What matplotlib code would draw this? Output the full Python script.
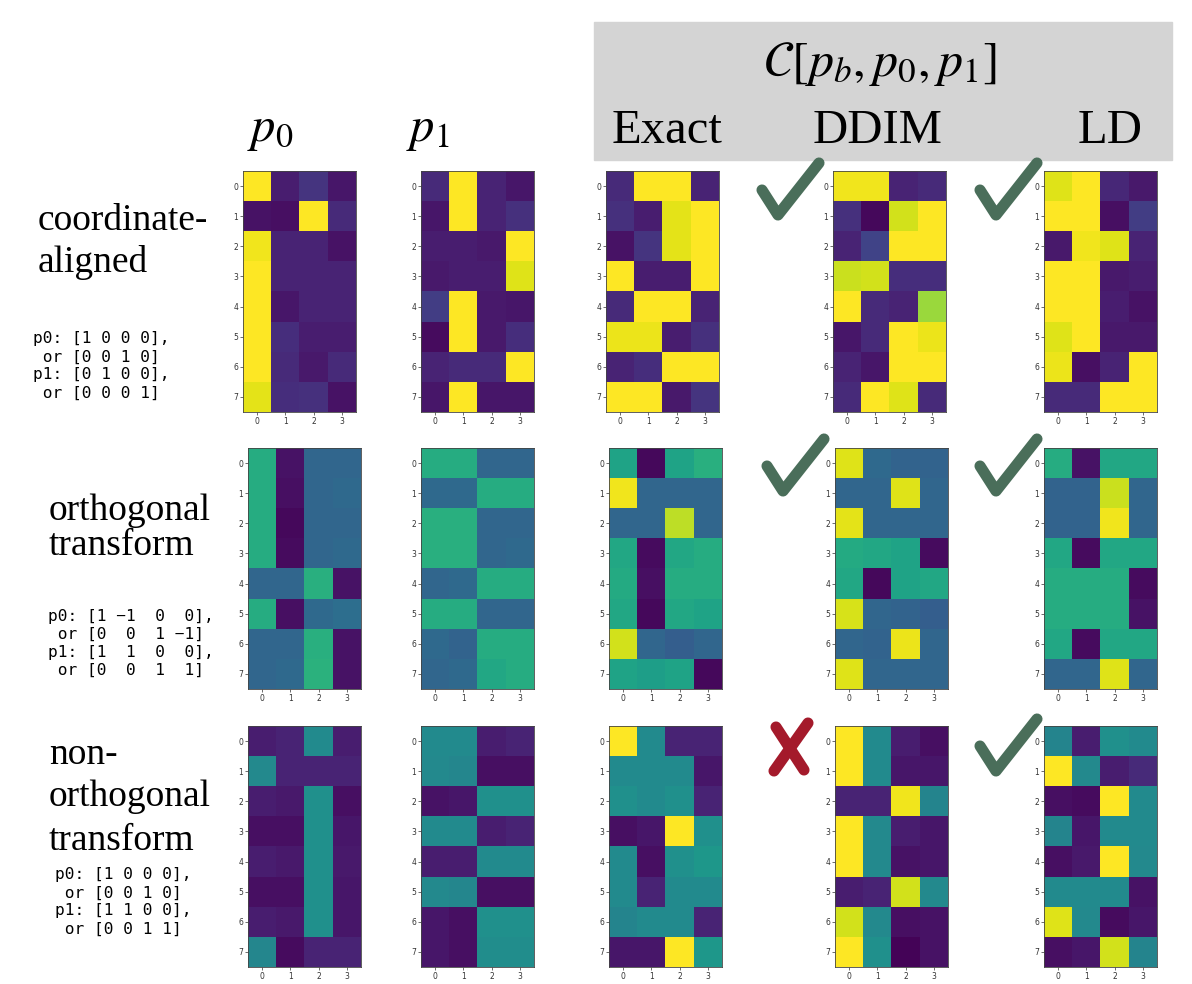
import numpy as np
import matplotlib
matplotlib.use("Agg")
import matplotlib.pyplot as plt
from matplotlib.patches import Rectangle
from matplotlib.lines import Line2D

plt.rcParams['mathtext.fontset'] = 'stix'
plt.rcParams['font.family'] = ['Liberation Serif', 'DejaVu Serif']

# ---- data (viridis fraction, 0 = dark purple, 1 = yellow) ----
Y = 1.0
# row 1: coordinate-aligned
ca_p0 = [[Y, .08, .15, .06], [.05, .04, Y, .12], [.98, .10, .10, .05], [Y, .10, .10, .10],
         [Y, .06, .10, .10], [Y, .13, .08, .08], [Y, .12, .07, .12], [.96, .13, .14, .05]]
ca_p1 = [[.12, Y, .10, .06], [.06, Y, .10, .14], [.08, .08, .07, Y], [.07, .08, .08, .95],
         [.18, Y, .07, .06], [.03, Y, .07, .13], [.10, .12, .12, Y], [.06, Y, .06, .06]]
ca_exact = [[.12, Y, Y, .10], [.14, .08, .96, Y], [.05, .15, .96, Y], [Y, .08, .08, Y],
            [.12, Y, Y, .10], [.97, .97, .08, .14], [.10, .13, Y, Y], [Y, Y, .07, .15]]
ca_ddim = [[.98, .98, .10, .12], [.14, .02, .93, Y], [.10, .20, Y, Y], [.92, .93, .13, .13],
           [Y, .12, .10, .85], [.06, .12, Y, .97], [.10, .06, Y, Y], [.12, Y, .95, .12]]
ca_ld = [[.95, Y, .11, .07], [Y, Y, .04, .18], [.07, .98, .95, .10], [Y, Y, .07, .08],
         [Y, Y, .08, .05], [.95, Y, .07, .07], [.97, .04, .10, Y], [.12, .12, Y, Y]]

# row 2: orthogonal transform
ot_p0 = [[.62, .05, .33, .33], [.62, .04, .33, .34], [.62, .02, .33, .33], [.62, .03, .33, .34],
         [.33, .33, .63, .05], [.62, .04, .34, .36], [.33, .33, .63, .05], [.33, .34, .64, .05]]
ot_p1 = [[.62, .62, .33, .33], [.34, .34, .62, .62], [.63, .63, .33, .33], [.63, .63, .33, .34],
         [.33, .34, .62, .62], [.62, .62, .33, .33], [.34, .32, .62, .62], [.33, .34, .60, .62]]
ot_exact = [[.58, .02, .58, .63], [.98, .33, .33, .33], [.33, .33, .90, .33], [.60, .03, .60, .62],
            [.61, .04, .62, .62], [.60, .02, .60, .58], [.93, .33, .30, .33], [.58, .56, .58, .02]]
ot_ddim = [[.95, .34, .32, .32], [.33, .33, .95, .33], [.96, .33, .33, .33], [.61, .60, .58, .03],
           [.60, .02, .58, .60], [.94, .33, .32, .30], [.33, .32, .97, .33], [.95, .33, .33, .33]]
ot_ld = [[.62, .05, .60, .60], [.32, .32, .92, .33], [.32, .32, .98, .33], [.60, .03, .60, .60],
         [.62, .62, .62, .03], [.62, .62, .62, .05], [.60, .03, .60, .60], [.33, .33, .95, .33]]

# row 3: non-orthogonal transform
no_p0 = [[.08, .10, .48, .08], [.47, .10, .10, .10], [.08, .07, .50, .04], [.04, .04, .50, .06],
         [.08, .07, .50, .07], [.04, .04, .50, .06], [.08, .07, .50, .06], [.46, .03, .10, .10]]
no_p1 = [[.48, .48, .08, .10], [.47, .46, .04, .04], [.05, .06, .50, .50], [.48, .48, .08, .10],
         [.08, .08, .48, .48], [.47, .46, .04, .04], [.06, .04, .50, .50], [.06, .04, .49, .49]]
no_exact = [[Y, .48, .10, .10], [.48, .48, .48, .06], [.50, .48, .50, .10], [.04, .06, Y, .50],
            [.48, .04, .50, .53], [.48, .10, .48, .48], [.45, .48, .48, .10], [.06, .06, Y, .53]]
no_ddim = [[Y, .48, .08, .04], [Y, .48, .06, .06], [.10, .10, .98, .45], [Y, .47, .08, .06],
           [Y, .47, .05, .06], [.08, .10, .93, .47], [.93, .47, .04, .05], [Y, .50, .01, .05]]
no_ld = [[.45, .08, .50, .48], [Y, .47, .08, .12], [.04, .03, Y, .48], [.45, .06, .48, .48],
         [.04, .07, Y, .47], [.48, .48, .48, .05], [.95, .47, .03, .06], [.04, .06, .93, .45]]

panels = [[ca_p0, ca_p1, ca_exact, ca_ddim, ca_ld],
          [ot_p0, ot_p1, ot_exact, ot_ddim, ot_ld],
          [no_p0, no_p1, no_exact, no_ddim, no_ld]]

col_titles = [r'$p_0$', r'$p_1$', 'Exact', 'DDIM', 'LD']
row_titles = [['coordinate-', 'aligned'], ['orthogonal', 'transform'],
              ['non-', 'orthogonal', 'transform']]
row_notes = ['p0: [1 0 0 0],\n or [0 0 1 0]\np1: [0 1 0 0],\n or [0 0 0 1]',
             'p0: [1 \u22121  0  0],\n or [0  0  1 \u22121]\np1: [1  1  0  0],\n or [0  0  1  1]',
             'p0: [1 0 0 0],\n or [0 0 1 0]\np1: [1 1 0 0],\n or [0 0 1 1]']
verdicts = [['ok', 'ok'], ['ok', 'ok'], ['bad', 'ok']]

W, H = 1192, 984
fig = plt.figure(figsize=(W / 100, H / 100), dpi=100)


def fx(x):
    return x / W


def fy(y):
    return 1 - y / H


# header box
fig.patches.append(Rectangle((fx(594), fy(160)), fx(1172 - 594), (160 - 22) / H,
                             transform=fig.transFigure, color='#d4d4d4', zorder=0))
fig.text(fx(880), fy(64), r'$\mathcal{C}[p_b, p_0, p_1]$', fontsize=36, ha='center', va='center')
title_x = [270, 428, 667, 878, 1110]
for t, x in zip(col_titles, title_x):
    fig.text(fx(x), fy(131), t, fontsize=35, ha='center', va='center')

col_left = [[243, 421, 606, 833, 1044], [248, 421, 609, 835, 1044], [248, 421, 609, 835, 1044]]
row_top = [171, 448, 726]
aw, ah = 113, 241

for r in range(3):
    for c in range(5):
        ax = fig.add_axes([fx(col_left[r][c]), fy(row_top[r] + ah), aw / W, ah / H])
        ax.imshow(np.array(panels[r][c]), cmap='viridis', vmin=0, vmax=1,
                  aspect='auto', interpolation='nearest')
        ax.set_xticks(range(4))
        ax.set_yticks(range(8))
        ax.tick_params(labelsize=5.5, length=2, width=0.5, pad=1.5, colors='#333333')
        for lab in ax.get_xticklabels() + ax.get_yticklabels():
            lab.set_family('DejaVu Sans')
        for s in ax.spines.values():
            s.set_linewidth(0.6)
            s.set_color('#444444')

# row labels (one text per line, baseline positions)
label_x = [38, 49, 49]
label_base = [[230, 272], [520, 555], [764, 806, 850]]
for lines, x, bases in zip(row_titles, label_x, label_base):
    for t, b in zip(lines, bases):
        fig.text(fx(x), fy(b), t, fontsize=27, ha='left', va='baseline')

note_x = [33, 48, 55]
note_y = [366, 643, 902]
for t, x, y in zip(row_notes, note_x, note_y):
    fig.text(fx(x), fy(y), t, fontsize=11.6, family='DejaVu Sans Mono', ha='left', va='center',
             linespacing=1.25)

# check marks / crosses
green = '#4a6e5a'
red = '#a41a2b'
mark_x = [762, 980]
mark_y = [190, 466, 746]


def check(x0, y0):
    xs = [x0, x0 + 16, x0 + 57]
    ys = [y0, y0 + 25, y0 - 27]
    fig.add_artist(Line2D([fx(v) for v in xs], [fy(v) for v in ys], color=green, lw=8,
                          solid_capstyle='round', solid_joinstyle='round'))


def cross(x0, y0):
    fig.add_artist(Line2D([fx(x0 + 14), fx(x0 + 42)], [fy(y0 - 19), fy(y0 + 24)], color=red, lw=8,
                          solid_capstyle='round'))
    fig.add_artist(Line2D([fx(x0 + 46), fx(x0 + 12)], [fy(y0 - 23), fy(y0 + 25)], color=red, lw=8,
                          solid_capstyle='round'))


for r in range(3):
    for k in range(2):
        if verdicts[r][k] == 'ok':
            check(mark_x[k] + (5 if r > 0 and k == 0 else 0), mark_y[r])
        else:
            cross(mark_x[k], mark_y[r])

fig.savefig('out.png', dpi=100)
